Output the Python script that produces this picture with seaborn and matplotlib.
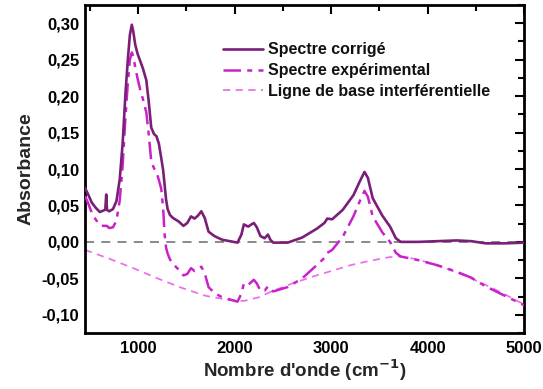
import matplotlib
matplotlib.use("Agg")
import matplotlib.pyplot as plt
import matplotlib.ticker as mticker
import numpy as np
import pandas as pd
import seaborn as sns

# Wavenumber grid (cm-1) shared by the two spectra
wavenumber = [450, 480, 520, 560, 604, 640, 660, 670, 678, 700, 740, 776, 810, 840,
              870, 895, 915, 935, 950, 970, 995, 1020, 1050, 1085, 1110, 1136, 1165,
              1190, 1215, 1240, 1260, 1275, 1290, 1306, 1330, 1360, 1420, 1470, 1510,
              1548, 1585, 1620, 1655, 1690, 1730, 1790, 1870, 1950, 2030, 2070, 2096,
              2140, 2199, 2230, 2267, 2310, 2345, 2370, 2400, 2550, 2700, 2850, 2930,
              2960, 3010, 3120, 3230, 3300, 3345, 3380, 3430, 3530, 3610, 3670, 3720,
              3900, 4100, 4300, 4450, 4600, 4800, 5000]

spectre_corrige = [0.074, 0.066, 0.054, 0.047, 0.041, 0.043, 0.044, 0.065, 0.044, 0.042,
                   0.045, 0.056, 0.086, 0.135, 0.205, 0.252, 0.284, 0.298, 0.289, 0.271,
                   0.258, 0.249, 0.238, 0.222, 0.193, 0.157, 0.148, 0.145, 0.135, 0.115,
                   0.098, 0.078, 0.058, 0.045, 0.037, 0.033, 0.028, 0.022, 0.026, 0.035,
                   0.032, 0.036, 0.042, 0.033, 0.014, 0.008, 0.003, 0.001, -0.001, 0.010,
                   0.024, 0.021, 0.026, 0.020, 0.008, 0.005, 0.010, 0.003, -0.001, -0.001,
                   0.006, 0.018, 0.026, 0.032, 0.031, 0.044, 0.064, 0.084, 0.096, 0.088,
                   0.060, 0.036, 0.021, 0.005, 0.000, 0.000, 0.001, 0.002, 0.001, -0.002,
                   -0.002, -0.001]

spectre_experimental = [0.063, 0.054, 0.040, 0.031, 0.023, 0.022, 0.022, 0.022, 0.022, 0.019,
                        0.020, 0.029, 0.057, 0.105, 0.173, 0.220, 0.250, 0.260, 0.255, 0.240,
                        0.224, 0.210, 0.196, 0.178, 0.148, 0.111, 0.101, 0.096, 0.085, 0.073,
                        0.045, 0.010, -0.008, -0.016, -0.024, -0.030, -0.038, -0.046, -0.044,
                        -0.036, -0.040, -0.038, -0.034, -0.043, -0.062, -0.070, -0.076, -0.079,
                        -0.082, -0.071, -0.057, -0.059, -0.052, -0.057, -0.067, -0.067, -0.061,
                        -0.066, -0.068, -0.062, -0.050, -0.032, -0.022, -0.015, -0.011, 0.007,
                        0.035, 0.057, 0.070, 0.062, 0.035, 0.013, 0.000, -0.015, -0.020,
                        -0.025, -0.032, -0.041, -0.049, -0.061, -0.074, -0.087]

# Interference baseline, sampled on its own grid
wavenumber_base = [450, 700, 950, 1200, 1450, 1700, 1950, 2100, 2250, 2400, 2600, 2800,
                   3000, 3200, 3400, 3600, 3700, 3850, 4000, 4200, 4400, 4600, 4800, 5000]
ligne_de_base = [-0.011, -0.023, -0.036, -0.050, -0.063, -0.074, -0.080, -0.081, -0.076,
                 -0.067, -0.057, -0.048, -0.040, -0.032, -0.026, -0.021, -0.020, -0.023,
                 -0.028, -0.037, -0.047, -0.059, -0.072, -0.086]

labels = ["Spectre corrigé", "Spectre expérimental", "Ligne de base interférentielle"]
colors = ["#7a1f78", "#c922c9", "#ec72ec"]

sns.set_theme(style="white")
plt.rcParams["font.family"] = ["Liberation Sans", "DejaVu Sans"]
plt.rcParams["font.weight"] = "bold"
plt.rcParams["mathtext.default"] = "bf"

fig = plt.figure(figsize=(5.43, 3.89), dpi=100)
ax = fig.add_axes([0.1565, 0.144, 0.809, 0.843])

df_spec = pd.DataFrame({"x": wavenumber, "c": spectre_corrige, "e": spectre_experimental})
df_base = pd.DataFrame({"x": wavenumber_base, "b": ligne_de_base})

ax.axhline(0, color="#808080", lw=1.3, ls=(0, (5, 4)), zorder=1)

sns.lineplot(data=df_spec, x="x", y="c", ax=ax, color=colors[0], lw=1.9,
             label=labels[0], sort=False, zorder=4)
sns.lineplot(data=df_spec, x="x", y="e", ax=ax, color=colors[1], lw=1.8,
             label=labels[1], sort=False, zorder=3)
ax.lines[-1].set_linestyle((0, (7, 2.5, 2, 2.5)))
sns.lineplot(data=df_base, x="x", y="b", ax=ax, color=colors[2], lw=1.3,
             label=labels[2], sort=False, zorder=2)
ax.lines[-1].set_linestyle((0, (4, 3)))

ax.set_xlim(450, 5000)
ax.set_ylim(-0.125, 0.325)

ax.xaxis.set_major_locator(mticker.MultipleLocator(1000))
ax.xaxis.set_minor_locator(mticker.MultipleLocator(500))
ax.yaxis.set_major_locator(mticker.MultipleLocator(0.05))
ax.yaxis.set_minor_locator(mticker.MultipleLocator(0.025))
ax.yaxis.set_major_formatter(mticker.FuncFormatter(
    lambda v, p: f"{v:.2f}".replace(".", ",").replace("-0,00", "0,00")))
ax.xaxis.set_major_formatter(mticker.FuncFormatter(lambda v, p: f"{v:.0f}"))

ax.tick_params(which="both", direction="in", top=True, right=True,
               width=1.5, colors="black", labelsize=12)
ax.tick_params(axis="y", pad=4)
ax.tick_params(axis="x", pad=6)
ax.tick_params(which="major", length=6.5)
ax.tick_params(which="minor", length=4)
for lab in ax.get_xticklabels() + ax.get_yticklabels():
    lab.set_fontweight("bold")

for s in ax.spines.values():
    s.set_linewidth(2)
    s.set_color("black")

ax.set_xlabel("Nombre d'onde (cm$^{-1}$)", fontsize=13.5, fontweight="bold", labelpad=1)
ax.set_ylabel("Absorbance", fontsize=14, fontweight="bold", labelpad=5)

leg = ax.legend(loc="upper left", bbox_to_anchor=(0.282, 0.93), frameon=False,
                handlelength=2.5, handletextpad=0.3, labelspacing=0.36,
                prop={"weight": "bold", "size": 11.5})
for t in leg.get_texts():
    t.set_color("#111111")

fig.savefig("out.png", dpi=100)
